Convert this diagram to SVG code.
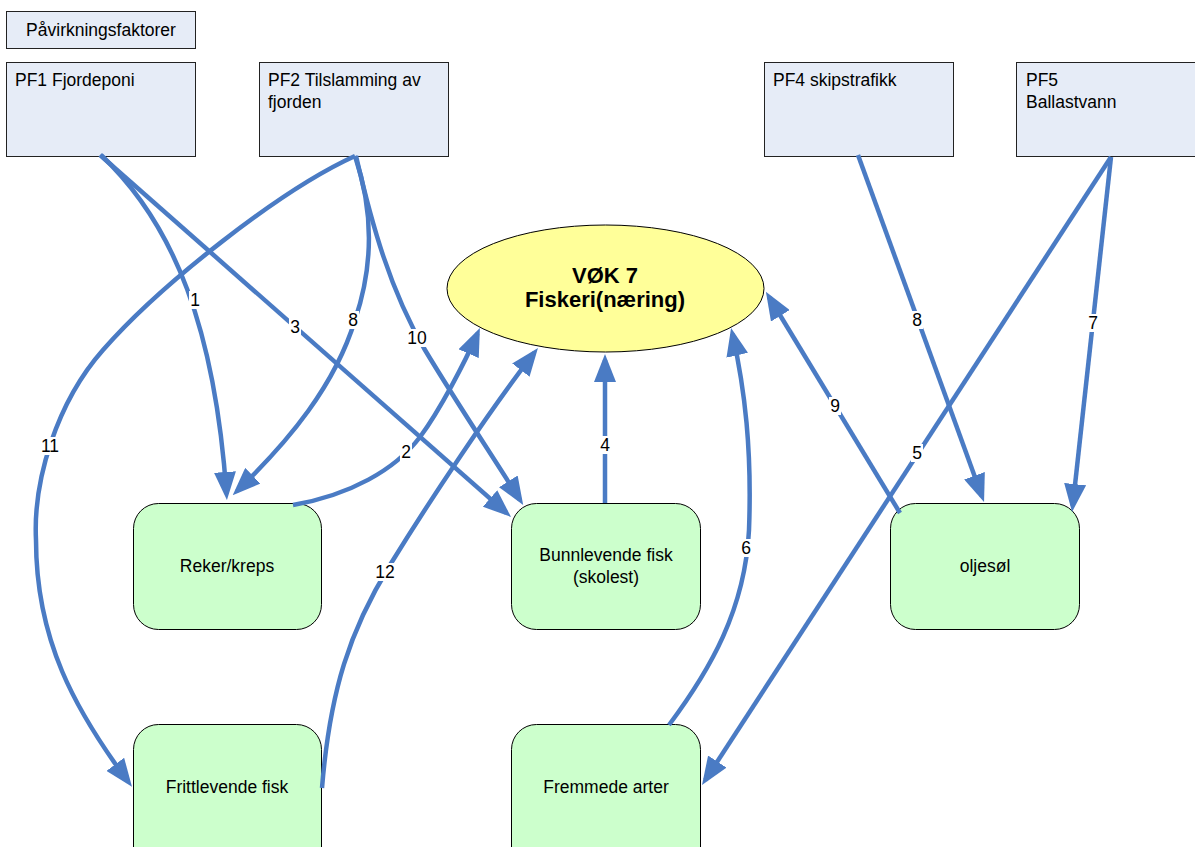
<svg xmlns="http://www.w3.org/2000/svg" width="1195" height="847" viewBox="0 0 1195 847">
  <defs>
    <style>
      text { font-family: "Liberation Sans", Arial, sans-serif; font-size: 17.5px; fill: #000; }
      .pf { fill: #e6ecf7; stroke: #222; stroke-width: 1; }
      .eco { fill: #ccffcc; stroke: #000; stroke-width: 1; }
      .core { fill: #ffff99; stroke: #000; stroke-width: 1; }
      .title { font-weight: bold; font-size: 22px; }
      .mid { text-anchor: middle; }
      .edge { fill: none; stroke: #4a7bc4; stroke-width: 4.5; marker-end: url(#arr); }
      .plain { fill: none; stroke: #4a7bc4; stroke-width: 4.5; }
      .lblbg { fill: #fff; }
    </style>
    <marker id="arr" markerUnits="userSpaceOnUse" markerWidth="28" markerHeight="22" viewBox="0 0 28 22" refX="22" refY="11" orient="auto">
      <path d="M0,0 L28,11 L0,22 z" fill="#4a7bc4"/>
    </marker>
  </defs>

  <rect width="1195" height="847" fill="#fff"/>

  <!-- pressure factors -->
  <g id="header">
    <rect class="pf" x="6.5" y="11.5" width="189" height="37"/>
    <text class="mid" x="101" y="35.5">Påvirkningsfaktorer</text>
  </g>
  <g id="pf1">
    <rect class="pf" x="6.5" y="62.5" width="189" height="94"/>
    <text x="15" y="86">PF1 Fjordeponi</text>
  </g>
  <g id="pf2">
    <rect class="pf" x="259.5" y="62.5" width="189" height="94"/>
    <text x="268" y="86">PF2 Tilslamming av</text>
    <text x="268" y="108">fjorden</text>
  </g>
  <g id="pf4">
    <rect class="pf" x="764.5" y="62.5" width="189" height="94"/>
    <text x="773" y="86">PF4 skipstrafikk</text>
  </g>
  <g id="pf5">
    <rect class="pf" x="1016.5" y="62.5" width="189" height="94"/>
    <text x="1026" y="86">PF5</text>
    <text x="1026" y="108">Ballastvann</text>
  </g>

  <!-- ecosystem component -->
  <g id="vok7">
    <ellipse class="core" cx="605.5" cy="288.5" rx="158.5" ry="63.5"/>
    <text class="title mid" x="605" y="283">VØK 7</text>
    <text class="title mid" x="605" y="307">Fiskeri(næring)</text>
  </g>

  <!-- affected groups -->
  <g id="reker">
    <rect class="eco" x="133.5" y="503.5" width="188" height="126" rx="25"/>
    <text class="mid" x="227" y="572">Reker/kreps</text>
  </g>
  <g id="bunnlevende">
    <rect class="eco" x="511.5" y="503.5" width="189" height="126" rx="25"/>
    <text class="mid" x="606" y="561">Bunnlevende fisk</text>
    <text class="mid" x="606" y="583">(skolest)</text>
  </g>
  <g id="oljesol">
    <rect class="eco" x="890.5" y="503.5" width="189" height="126" rx="25"/>
    <text class="mid" x="985" y="572">oljesøl</text>
  </g>
  <g id="frittlevende">
    <rect class="eco" x="133.5" y="724.5" width="188" height="150" rx="25"/>
    <text class="mid" x="227" y="793">Frittlevende fisk</text>
  </g>
  <g id="fremmede">
    <rect class="eco" x="511.5" y="724.5" width="189" height="150" rx="25"/>
    <text class="mid" x="606" y="793">Fremmede arter</text>
  </g>

  <!-- connectors -->
  <g id="connectors">
    <path class="edge" d="M101,155 C175,225 215,330 226.5,494"/>
    <path class="edge" d="M100,155 L506.5,513"/>
    <path class="edge" d="M355,156 C375,215 372,270 355,320 C335,385 290,440 237,491"/>
    <path class="edge" d="M356,156 C372,225 390,290 425,350 C455,400 495,460 520,500"/>
    <path class="edge" d="M355,156 C280,190 160,285 103,350 C57,402 33,480 36,540 C36,640 75,710 128.4,782"/>
    <path class="edge" d="M293,505 C350,495 395,470 420,437 C440,410 465,362 477.5,333.5"/>
    <path class="edge" d="M322,788 C330,690 350,630 390,565 C430,500 490,410 534.3,352.7"/>
    <path class="edge" d="M605,503 L605,360"/>
    <path class="edge" d="M669,725 C710,670 745,610 749,530 C752,450 745,390 732.4,333.8"/>
    <path class="edge" d="M900,513 L769,297"/>
    <path class="edge" d="M858,155 L982,496.4"/>
    <path class="edge" d="M1111,157 L1072.7,506"/>
    <path class="edge" d="M1111,157 L705.3,780"/>

    <!-- edge labels -->
    <rect class="lblbg" x="189" y="291" width="12" height="18"/>
    <text class="mid" x="195" y="306">1</text>
    <rect class="lblbg" x="289" y="318" width="12" height="18"/>
    <text class="mid" x="295" y="333">3</text>
    <rect class="lblbg" x="347" y="311" width="12" height="18"/>
    <text class="mid" x="353" y="326">8</text>
    <rect class="lblbg" x="407" y="329" width="20" height="18"/>
    <text class="mid" x="417" y="344">10</text>
    <rect class="lblbg" x="40" y="437" width="20" height="18"/>
    <text class="mid" x="50" y="452">11</text>
    <rect class="lblbg" x="400" y="443" width="12" height="18"/>
    <text class="mid" x="406" y="458">2</text>
    <rect class="lblbg" x="375" y="563" width="20" height="18"/>
    <text class="mid" x="385" y="578">12</text>
    <rect class="lblbg" x="599" y="436" width="12" height="18"/>
    <text class="mid" x="605" y="451">4</text>
    <rect class="lblbg" x="740" y="539" width="12" height="18"/>
    <text class="mid" x="746" y="554">6</text>
    <rect class="lblbg" x="829" y="397" width="12" height="18"/>
    <text class="mid" x="835" y="412">9</text>
    <rect class="lblbg" x="911" y="311" width="12" height="18"/>
    <text class="mid" x="917" y="326">8</text>
    <rect class="lblbg" x="1087" y="314" width="12" height="18"/>
    <text class="mid" x="1093" y="329">7</text>
    <rect class="lblbg" x="911" y="444" width="12" height="18"/>
    <text class="mid" x="917" y="459">5</text>
  </g>
</svg>
